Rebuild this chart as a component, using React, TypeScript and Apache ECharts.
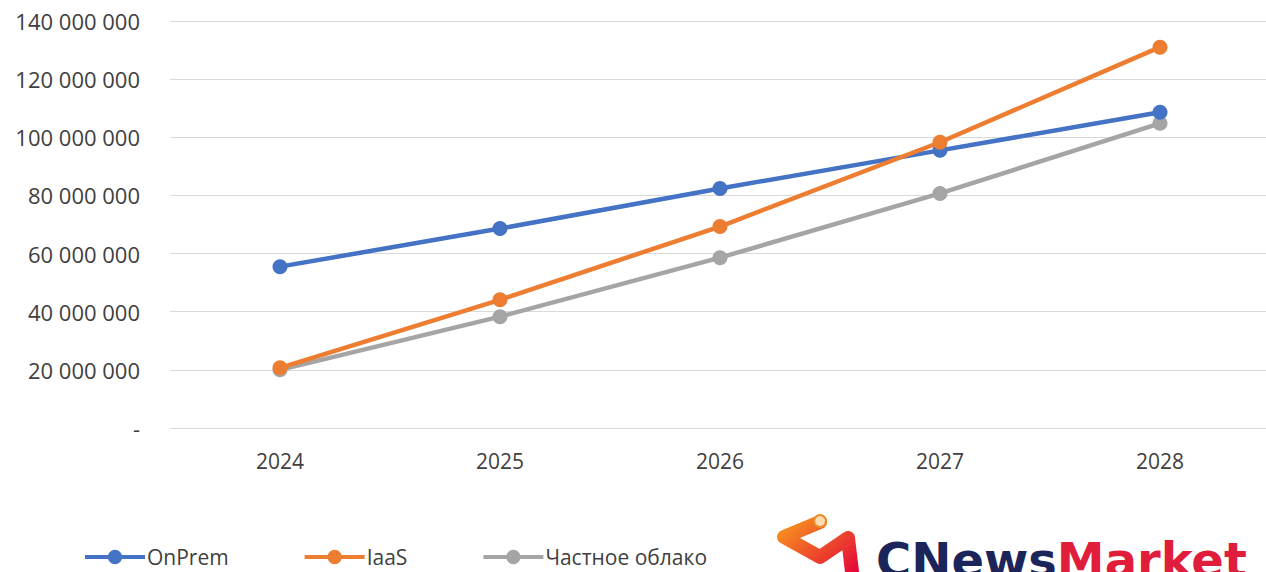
import React, { useEffect, useRef } from "react";
import * as echarts from "echarts";

const years = ["2024", "2025", "2026", "2027", "2028"];
const onPrem = [55500000, 68600000, 82400000, 95500000, 108600000];
const iaas = [20700000, 44100000, 69300000, 98300000, 131000000];
const privateCloud = [20000000, 38300000, 58600000, 80700000, 104800000];
const seriesNames = ["OnPrem", "IaaS", "Частное облако"];
const colors = ["#4472C4", "#ED7D31", "#A5A5A5"];

const fmt = (v: number) =>
  v === 0 ? "-" : String(Math.round(v)).replace(/\B(?=(\d{3})+(?!\d))/g, " ");

export default function App() {
  const ref = useRef<HTMLDivElement>(null);
  useEffect(() => {
    document.body.style.margin = "0";
    document.body.style.overflow = "hidden";
    const chart = echarts.init(ref.current!, null, { renderer: "svg" });
    const datasets = [onPrem, iaas, privateCloud];
    chart.setOption({
      animation: false,
      backgroundColor: "#ffffff",
      textStyle: { fontFamily: "Open Sans" },
      grid: { left: 170, right: 0, top: 21, bottom: 144 },
      legend: {
        left: 78,
        top: 541,
        itemWidth: 60,
        itemHeight: 18,
        itemGap: 74,
        lineStyle: { width: 4 },
        textStyle: { fontSize: 21, lineHeight: 22, color: "#404040", fontFamily: "Open Sans", padding: [0, 0, 0, -3] },
        data: seriesNames,
      },
      xAxis: {
        type: "category",
        data: years,
        boundaryGap: true,
        axisLine: { show: true, lineStyle: { color: "#d9d9d9", width: 1 } },
        axisTick: { show: false },
        axisLabel: { fontSize: 21, color: "#404040", margin: 22, fontFamily: "Open Sans" },
      },
      yAxis: {
        type: "value",
        min: 0,
        max: 140000000,
        interval: 20000000,
        axisLine: { show: false },
        axisTick: { show: false },
        splitLine: { lineStyle: { color: "#d9d9d9", width: 1 } },
        axisLabel: { fontSize: 22, color: "#404040", margin: 30, formatter: fmt, fontFamily: "Open Sans" },
      },
      series: seriesNames.map((n, i) => ({
        name: n,
        type: "line",
        data: datasets[i],
        symbol: "circle",
        symbolSize: 15,
        lineStyle: { width: 4.5, color: colors[i] },
        itemStyle: { color: colors[i] },
        z: i === 0 ? 3 : i === 1 ? 4 : 2,
      })),
      graphic: [
        {
          type: "polyline",
          shape: { points: [[820, 522], [784, 537], [820, 557], [848, 538], [853, 580]] },
          style: {
            fill: null,
            lineWidth: 14,
            lineJoin: "round",
            lineCap: "round",
            stroke: new echarts.graphic.LinearGradient(0, 0, 1, 1, [
              { offset: 0, color: "#f7941d" },
              { offset: 1, color: "#e4003a" },
            ]),
          },
        },
        {
          type: "circle",
          shape: { cx: 820, cy: 521, r: 6 },
          style: { fill: "#f8dcb4", stroke: "#f08a24", lineWidth: 2 },
        },
        {
          type: "text",
          x: 876,
          y: 536,
          style: {
            text: "{a|CNews}{b|Market}",
            rich: {
              a: { fontSize: 48, fontWeight: "bold", fill: "#1b2559", fontFamily: "DejaVu Sans" },
              b: { fontSize: 48, fontWeight: "bold", fill: "#e11d3c", fontFamily: "DejaVu Sans" },
            },
            verticalAlign: "top",
          },
        },
      ],
    });
    return () => chart.dispose();
  }, []);
  return <div ref={ref} style={{ position: "absolute", left: 0, top: 0, width: 1270, height: 572 }} />;
}
